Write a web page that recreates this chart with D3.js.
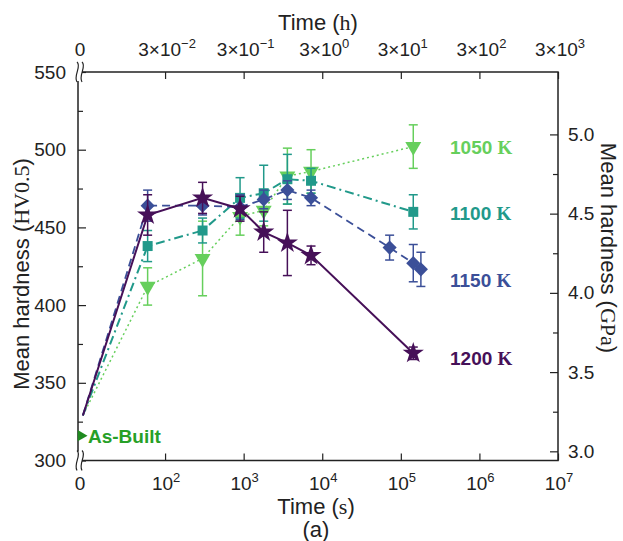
<!DOCTYPE html>
<html>
<head>
<meta charset="utf-8">
<script src="https://cdn.jsdelivr.net/npm/d3@7"></script>
<style>
  body { margin: 0; background: #fff; }
  svg { display: block; }
</style>
</head>
<body>
<svg id="chart" width="623" height="541"></svg>
<script>
// ---- data: annealing time (s), mean hardness (HV0.5), error (HV) ----
const times1050 = [60, 300, 900, 1800, 3600, 7200, 144000];
const hv1050    = [412, 430, 457, 461, 483, 486, 502];
const err1050   = [12, 24, 12, 10, 18, 14, 14];

const times1100 = [60, 300, 900, 1800, 3600, 7200, 144000];
const hv1100    = [438, 448, 469, 472, 481, 480, 460];
const err1100   = [10, 8, 13, 18, 16, 8, 11];

const times1150 = [60, 300, 900, 1800, 3600, 7200, 72000, 144000, 180000];
const hv1150    = [464, 464, 463, 468, 474, 469, 437, 427, 423];
const err1150   = [10, 6, 8, 6, 6, 5, 8, 12, 11];

const times1200 = [60, 300, 900, 1800, 3600, 7200, 144000];
const hv1200    = [458, 469, 462, 447, 440, 432, 369];
const err1200   = [13, 10, 8, 13, 21, 6, 4];

// initial state every curve starts from, and the as-built reference level
const startTime = 9;
const startHV = 329;
const asBuiltHV = 316;

// axis ticks
const hvTicks = [300, 350, 400, 450, 500, 550];
const hvMinorTicks = [325, 375, 425, 475, 525];
const gpaTicks = [3.0, 3.5, 4.0, 4.5, 5.0];
const gpaMinorTicks = [3.25, 3.75, 4.25, 4.75];
const secTicks = [1e2, 1e3, 1e4, 1e5, 1e6, 1e7];
const secTickExps = ["2", "3", "4", "5", "6", "7"];
const hourTicks = [3e-2, 3e-1, 3e0, 3e1, 3e2, 3e3];
const hourTickExps = ["\u22122", "\u22121", "0", "1", "2", "3"];

const HV_TO_GPA = 0.009807;

// ---- styling ----
const SANS = "'Liberation Sans', Arial, sans-serif";
const SERIF = "'Liberation Serif', 'Times New Roman', serif";
const plot = { left: 78, right: 558, top: 72, bottom: 460.5 };

const series = [
  { name: "1050", t: times1050, v: hv1050, e: err1050, color: "#66cf5c",
    symbol: "triDown", dash: "2,3", width: 1.5, labelY: 154 },
  { name: "1100", t: times1100, v: hv1100, e: err1100, color: "#21998a",
    symbol: "square", dash: "9,4,2,4", width: 2, labelY: 220 },
  { name: "1150", t: times1150, v: hv1150, e: err1150, color: "#3b4f98",
    symbol: "diamond", dash: "8,5", width: 1.8, labelY: 287 },
  { name: "1200", t: times1200, v: hv1200, e: err1200, color: "#461058",
    symbol: "star", dash: null, width: 2, labelY: 365 }
];

const svg = d3.select("#chart");

const x = d3.scaleLog().domain([7.8, 1e7]).range([plot.left, plot.right]);
// hour axis shares the positions of the second axis (1 s ~ 3e-4 h as labelled)
const xh = d3.scaleLog().domain([7.8 * 3e-4, 1e7 * 3e-4]).range([plot.left, plot.right]);
const y = d3.scaleLinear().domain([300, 550]).range([plot.bottom, plot.top]);
const y2 = d3.scaleLinear().domain([300 * HV_TO_GPA, 550 * HV_TO_GPA]).range([plot.bottom, plot.top]);

function styleAxis(g) {
  g.select(".domain").remove();
  g.selectAll(".tick line").attr("stroke", "#222").attr("stroke-width", 1.2);
  g.selectAll(".tick text").attr("fill", "#222").attr("font-family", SANS).attr("font-size", 19);
}

// left axis (HV)
svg.append("g").attr("transform", `translate(${plot.left},0)`)
  .call(d3.axisLeft(y).tickValues(hvTicks).tickSize(-8).tickPadding(12))
  .call(styleAxis);
svg.append("g").attr("transform", `translate(${plot.left},0)`)
  .call(d3.axisLeft(y).tickValues(hvMinorTicks).tickSize(-5).tickFormat(""))
  .call(styleAxis);

// right axis (GPa)
svg.append("g").attr("transform", `translate(${plot.right},0)`)
  .call(d3.axisRight(y2).tickValues(gpaTicks).tickSize(-8).tickPadding(10).tickFormat(d3.format(".1f")))
  .call(styleAxis);
svg.append("g").attr("transform", `translate(${plot.right},0)`)
  .call(d3.axisRight(y2).tickValues(gpaMinorTicks).tickSize(-5).tickFormat(""))
  .call(styleAxis);

// bottom axis (s)
svg.append("g").attr("transform", `translate(0,${plot.bottom})`)
  .call(d3.axisBottom(x).tickValues(secTicks).tickSize(-7).tickFormat(""))
  .call(styleAxis);

// top axis (h)
svg.append("g").attr("transform", `translate(0,${plot.top})`)
  .call(d3.axisTop(xh).tickValues(hourTicks).tickSize(-7).tickFormat(""))
  .call(styleAxis);

// power-of-ten tick labels
function powerLabel(g, xpos, ypos, base, exp) {
  const t = g.append("text").attr("x", xpos).attr("y", ypos)
    .attr("text-anchor", "middle").attr("font-family", SANS)
    .attr("font-size", 19).attr("fill", "#222");
  t.append("tspan").text(base);
  t.append("tspan").attr("dy", -8).attr("font-size", 13).text(exp);
}
const labels = svg.append("g");
secTicks.forEach((v, i) => powerLabel(labels, x(v) + 1, 490, "10", secTickExps[i]));
hourTicks.forEach((v, i) => powerLabel(labels, xh(v) + 2, 56, "3\u00d710", hourTickExps[i]));
// zero labels at the broken start of both time axes
labels.append("text").attr("x", plot.left + 2).attr("y", 490).attr("text-anchor", "middle")
  .attr("font-family", SANS).attr("font-size", 19).attr("fill", "#222").text("0");
labels.append("text").attr("x", plot.left + 2).attr("y", 56).attr("text-anchor", "middle")
  .attr("font-family", SANS).attr("font-size", 19).attr("fill", "#222").text("0");

// frame
svg.append("rect")
  .attr("x", plot.left).attr("y", plot.top)
  .attr("width", plot.right - plot.left).attr("height", plot.bottom - plot.top)
  .attr("fill", "none").attr("stroke", "#222").attr("stroke-width", 1.5);

// axis break marks at the zero end
const brk = svg.append("g").attr("fill", "none").attr("stroke", "#222").attr("stroke-width", 1.2);
[[plot.left, plot.top], [plot.left, plot.bottom]].forEach(([bx, by]) => {
  brk.append("path").attr("fill", "#fff").attr("stroke", "none")
    .attr("d", `M${bx - 1},${by - 9} L${bx + 4},${by - 9} L${bx + 4},${by + 9} L${bx - 1},${by + 9} Z`);
  brk.append("path").attr("d", `M${bx - 1},${by - 10} C${bx + 4},${by - 6} ${bx - 5},${by + 4} ${bx - 1},${by + 10}`);
  brk.append("path").attr("d", `M${bx + 4},${by - 10} C${bx + 9},${by - 6} ${bx},${by + 4} ${bx + 4},${by + 10}`);
});

// axis titles
function titleText(g, parts) {
  parts.forEach(([txt, font]) => g.append("tspan").attr("font-family", font).text(txt));
}
const tTop = svg.append("text").attr("x", 318).attr("y", 30).attr("text-anchor", "middle")
  .attr("font-size", 22).attr("fill", "#222");
titleText(tTop, [["Time (", SANS], ["h", SERIF], [")", SANS]]);

const tBottom = svg.append("text").attr("x", 316).attr("y", 514).attr("text-anchor", "middle")
  .attr("font-size", 22).attr("fill", "#222");
titleText(tBottom, [["Time (", SANS], ["s", SERIF], [")", SANS]]);

svg.append("text").attr("x", 316).attr("y", 537).attr("text-anchor", "middle")
  .attr("font-family", SANS).attr("font-size", 22).attr("fill", "#222").text("(a)");

const tLeft = svg.append("text").attr("transform", "translate(29,274) rotate(-90)")
  .attr("text-anchor", "middle").attr("font-size", 22).attr("fill", "#222");
titleText(tLeft, [["Mean hardness (", SANS], ["HV0.5", SERIF], [")", SANS]]);

const tRight = svg.append("text").attr("transform", "translate(601,248) rotate(90)")
  .attr("text-anchor", "middle").attr("font-size", 22).attr("fill", "#222");
titleText(tRight, [["Mean hardness (", SANS], ["GPa", SERIF], [")", SANS]]);

// ---- data marks ----
const lineGen = d3.line().x(d => x(d.t)).y(d => y(d.v));

const symbolPath = {
  triDown: { type: d3.symbolTriangle, size: 110, rot: 180 },
  square: { type: d3.symbolSquare, size: 100, rot: 0 },
  diamond: { type: d3.symbolSquare, size: 100, rot: 45 },
  star: { type: d3.symbolStar, size: 140, rot: 0 }
};

const dataLayer = svg.append("g");
series.forEach(s => {
  const pts = s.t.map((t, i) => ({ t, v: s.v[i], e: s.e[i] }));
  const g = dataLayer.append("g");

  g.append("path")
    .datum([{ t: startTime, v: startHV }].concat(pts))
    .attr("d", lineGen)
    .attr("fill", "none")
    .attr("stroke", s.color)
    .attr("stroke-width", s.width)
    .attr("stroke-dasharray", s.dash);

  const eb = g.selectAll(".eb").data(pts).join("g").attr("stroke", s.color).attr("stroke-width", 1.5);
  eb.append("line")
    .attr("x1", d => x(d.t)).attr("x2", d => x(d.t))
    .attr("y1", d => y(d.v + d.e)).attr("y2", d => y(d.v - d.e));
  eb.append("line")
    .attr("x1", d => x(d.t) - 4.5).attr("x2", d => x(d.t) + 4.5)
    .attr("y1", d => y(d.v + d.e)).attr("y2", d => y(d.v + d.e));
  eb.append("line")
    .attr("x1", d => x(d.t) - 4.5).attr("x2", d => x(d.t) + 4.5)
    .attr("y1", d => y(d.v - d.e)).attr("y2", d => y(d.v - d.e));

  const sp = symbolPath[s.symbol];
  g.selectAll(".mk").data(pts).join("path")
    .attr("d", d3.symbol(sp.type, sp.size))
    .attr("transform", d => `translate(${x(d.t)},${y(d.v)}) rotate(${sp.rot})`)
    .attr("fill", s.color);

  // series label
  const lab = svg.append("text").attr("x", 450).attr("y", s.labelY)
    .attr("font-size", 19).attr("font-weight", "bold").attr("fill", s.color);
  lab.append("tspan").attr("font-family", SANS).text(s.name + " ");
  lab.append("tspan").attr("font-family", SERIF).text("K");
});

// as-built reference marker
svg.append("path")
  .attr("d", d3.symbol(d3.symbolTriangle, 55))
  .attr("transform", `translate(${plot.left + 3},${y(asBuiltHV)}) rotate(90)`)
  .attr("fill", "#1f8a1f");
svg.append("text").attr("x", plot.left + 10).attr("y", y(asBuiltHV) + 7)
  .attr("font-family", SANS).attr("font-size", 19).attr("font-weight", "bold")
  .attr("fill", "#27a027").text("As-Built");
</script>
</body>
</html>
